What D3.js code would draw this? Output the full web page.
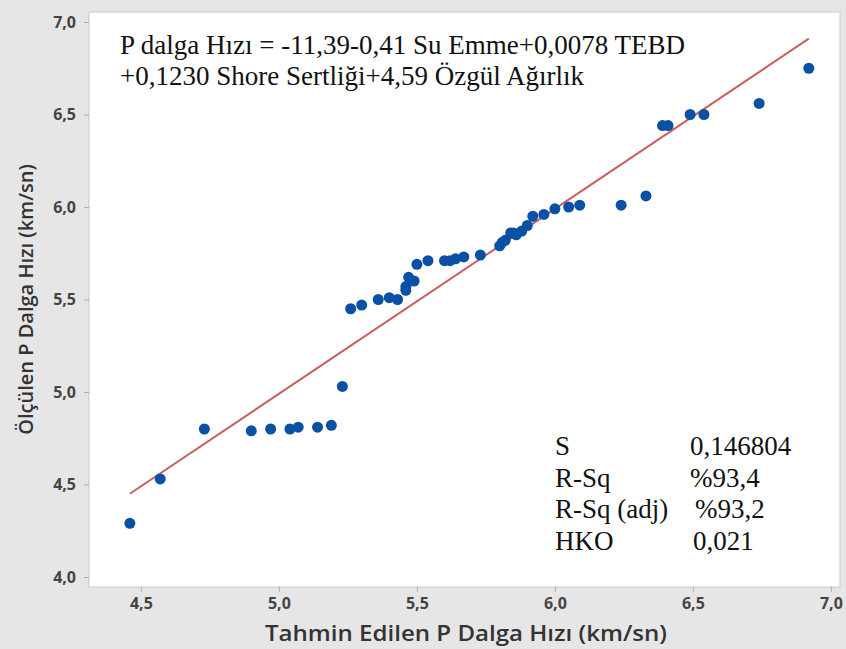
<!DOCTYPE html>
<html>
<head>
<meta charset="utf-8">
<script src="https://cdn.jsdelivr.net/npm/d3@7"></script>
<style>
  body { margin: 0; background: #e6e6e6; }
</style>
</head>
<body>
<div id="chart"></div>
<script>
// predicted (x) and measured (y) P wave velocity, km/sn
const predicted = [4.46, 4.57, 4.73, 4.90, 4.97, 5.04, 5.07, 5.14, 5.19, 5.23,
  5.26, 5.30, 5.36, 5.40, 5.43, 5.46, 5.47, 5.49, 5.46, 5.50,
  5.54, 5.60, 5.62, 5.64, 5.67, 5.73, 5.80, 5.81, 5.82, 5.84,
  5.85, 5.86, 5.88, 5.90, 5.92, 5.96, 6.00, 6.05, 6.09, 6.24,
  6.33, 6.39, 6.41, 6.49, 6.54, 6.74, 6.92];
const measured = [4.29, 4.53, 4.80, 4.79, 4.80, 4.80, 4.81, 4.81, 4.82, 5.03,
  5.45, 5.47, 5.50, 5.51, 5.50, 5.57, 5.62, 5.60, 5.55, 5.69,
  5.71, 5.71, 5.71, 5.72, 5.73, 5.74, 5.79, 5.81, 5.82, 5.86,
  5.86, 5.85, 5.87, 5.90, 5.95, 5.96, 5.99, 6.00, 6.01, 6.01,
  6.06, 6.44, 6.44, 6.50, 6.50, 6.56, 6.75];

// fitted line ends
const fitX = [4.46, 6.92];
const fitY = [4.45, 6.91];

const xTicks = [4.5, 5.0, 5.5, 6.0, 6.5, 7.0];
const yTicks = [4.0, 4.5, 5.0, 5.5, 6.0, 6.5, 7.0];

const equationLines = [
  "P dalga Hızı = -11,39-0,41 Su Emme+0,0078 TEBD",
  "+0,1230 Shore Sertliği+4,59 Özgül Ağırlık"
];
const statNames = ["S", "R-Sq", "R-Sq (adj)", "HKO"];
const statValues = ["0,146804", "%93,4", "%93,2", "0,021"];

const width = 846;
const height = 649;
const plot = { left: 89, right: 840, top: 12, bottom: 587 };

const fmt = d => d.toFixed(1).replace(".", ",");

const svg = d3.select("#chart")
  .append("svg")
  .attr("width", width)
  .attr("height", height);

svg.append("rect")
  .attr("width", width)
  .attr("height", height)
  .attr("fill", "#e6e6e6");

const x = d3.scaleLinear().domain([4.312, 7.033]).range([plot.left, plot.right]);
const y = d3.scaleLinear().domain([3.946, 7.054]).range([plot.bottom, plot.top]);

// plot area
svg.append("rect")
  .attr("x", plot.left)
  .attr("y", plot.top)
  .attr("width", plot.right - plot.left)
  .attr("height", plot.bottom - plot.top)
  .attr("fill", "#fff")
  .attr("stroke", "#c8c8c8");

// axes
const xAxis = svg.append("g")
  .attr("transform", `translate(0,${plot.bottom})`)
  .call(d3.axisBottom(x).tickValues(xTicks).tickFormat(fmt).tickSize(5).tickPadding(6));

const yAxis = svg.append("g")
  .attr("transform", `translate(${plot.left},0)`)
  .call(d3.axisLeft(y).tickValues(yTicks).tickFormat(fmt).tickSize(5).tickPadding(8));

[xAxis, yAxis].forEach(g => {
  g.select(".domain").remove();
  g.selectAll(".tick line").attr("stroke", "#b0b0b0");
  g.selectAll(".tick text")
    .attr("fill", "#444")
    .style("font", "bold 16px 'Open Sans'");
});

// fitted line
svg.append("line")
  .attr("x1", x(fitX[0]))
  .attr("y1", y(fitY[0]))
  .attr("x2", x(fitX[1]))
  .attr("y2", y(fitY[1]))
  .attr("stroke", "#c8605c")
  .attr("stroke-width", 2);

// points
svg.selectAll("circle")
  .data(predicted)
  .enter()
  .append("circle")
  .attr("cx", d => x(d))
  .attr("cy", (d, i) => y(measured[i]))
  .attr("r", 5.5)
  .attr("fill", "#0a50a4");

// regression equation
svg.append("g")
  .selectAll("text")
  .data(equationLines)
  .enter()
  .append("text")
  .attr("x", 120)
  .attr("y", (d, i) => 54 + i * 31)
  .style("font", "27px 'Liberation Serif'")
  .attr("fill", "#111")
  .text(d => d);

// model summary
const stats = svg.append("g");
stats.selectAll(".name")
  .data(statNames)
  .enter()
  .append("text")
  .attr("class", "name")
  .attr("x", 555)
  .attr("y", (d, i) => 455 + i * 31.5)
  .style("font", "27px 'Liberation Serif'")
  .attr("fill", "#111")
  .text(d => d);

stats.selectAll(".value")
  .data(statValues)
  .enter()
  .append("text")
  .attr("class", "value")
  .attr("x", (d, i) => [690, 690, 695, 693][i])
  .attr("y", (d, i) => 455 + i * 31.5)
  .style("font", "27px 'Liberation Serif'")
  .attr("fill", "#111")
  .text(d => d);

// axis titles
svg.append("text")
  .attr("x", 466)
  .attr("y", 641)
  .attr("text-anchor", "middle")
  .attr("textLength", 402)
  .attr("lengthAdjust", "spacingAndGlyphs")
  .style("font", "600 22px 'Open Sans'")
  .attr("fill", "#333")
  .text("Tahmin Edilen P Dalga Hızı (km/sn)");

svg.append("text")
  .attr("transform", `translate(33,${(plot.top + plot.bottom) / 2}) rotate(-90)`)
  .attr("text-anchor", "middle")
  .style("font", "600 20px 'Open Sans'")
  .attr("fill", "#333")
  .text("Ölçülen P Dalga Hızı (km/sn)");
</script>
</body>
</html>
